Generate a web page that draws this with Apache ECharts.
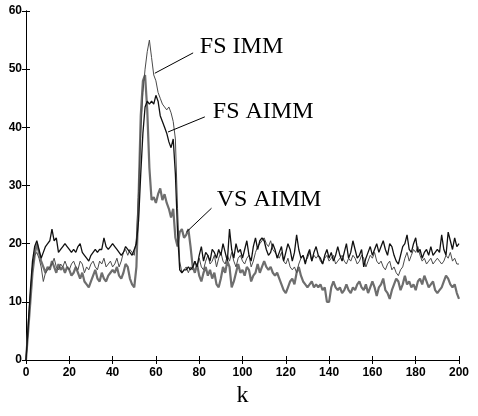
<!DOCTYPE html>
<html><head><meta charset="utf-8">
<script src="https://cdn.jsdelivr.net/npm/echarts@6/dist/echarts.min.js"></script>
<style>html,body{margin:0;padding:0;background:#fff}#c{width:478px;height:416px}</style>
</head><body><div id="c"></div>
<script>
// k = 0..200
const fsAimm = [
0,6,12,17,19.5,20.5,19,17.5,18.5,19.5,
20,20.5,22.5,20.5,21,18.5,19,19.5,20,19.5,
19,18.5,19,18.5,19.5,20,18.5,18,17.5,17,
18,18.5,19,18.5,19,19,21,19.5,19,19.5,
20,19.5,19,18.5,18,18.5,19.5,19,18.5,18,
19,20,24,32,39,43.5,44.5,44,44.5,44,
45.5,44.5,42,41,40,39,37.5,36.5,38,32,
22,15.5,15,15.5,15.5,16,15.5,16,17,16,
18,19.5,17,18.5,18,17,19,18.5,17.5,19,
18,20,18.5,17,22.5,19,17.5,20,18.5,19,
17.5,19,20.5,18,17,19.5,21,19,20.5,21,
20.5,19,18,18.5,20,19,17.5,18.5,19.5,17,
18.5,20,19,17,18.5,21.5,19,17.5,18,16.5,
18,19,17,18.5,19.5,18,17.5,16.5,18,19,
17.5,18.5,17,18,19.5,18,17,18.5,20,17.5,
18.5,20.5,19,17.5,18,19,16,17.5,18.5,19.5,
18,19,20,18.5,19.5,20.5,19,18,20,19.5,
18,17,16.5,18,19.5,20,21.5,19,18.5,20,
21,18.5,19,17.5,18.5,19,18,19.5,18,18.5,
19,18.5,21.5,19,18,22,20.5,19,21,19.5,
20];
const fsImm = [
0,5,11,16,18,18.5,17.5,16,13.5,15,
15.5,16,16.5,17.5,16,15.5,16.5,16,17,16,
15.5,16.5,17,16,15.5,17,16.5,15,16,15.5,
16.5,17,16,15.5,17,16.5,17.5,16,16.5,17,
16,16.5,17.5,16,17,18.5,19,18,19,18.5,
18,21,29,39,46,50,53,55,52,49,
48,46,45,44,43.5,43,43.5,42.5,41,38,
26,17,15,15.5,16,15,16,15.5,17,16,
17.5,16,15.5,17,18,16.5,17,18,16,17.5,
18.5,17,16.5,18,17,18.5,17,16,17.5,18,
17,16.5,17.5,18,16,17,18.5,19.5,20,20.5,
21,20,19.5,20.5,19,18.5,18,17.5,18.5,17,
16.5,17.5,16,15.5,16,15,16.5,17.5,18,17,
17.5,18.5,17,18,17.5,18,17,16.5,17.5,18,
17,17.5,18,16.5,17,17.5,18,17,16.5,17.5,
17,18,17.5,16.5,17,18,17.5,16,17,18,
17.5,18.5,17,16.5,17,16,15.5,16.5,17,15.5,
16,15,14.5,15.5,16,17.5,18.5,17,18,19,
18.5,19.5,18,17,17.5,16.5,17,17.5,16.5,17,
17.5,17,16.5,17,18,17.5,18.5,17,17.5,16.5,
16.5];
const vsAimm = [
0,5,10,15,18,20,18.5,17,16,15,
16,15.5,17,16,15,16.5,15.5,16,15,16,
15.5,14.5,15,16,15,14,15,13.5,13,12.5,
13.5,14.5,15.5,14,13.5,15,14,13.5,14.5,15,
15.5,15,16,14.5,14,15,16.5,16,14,13,
12.5,16,28,42,48,49,43,33,27.5,28,
27,28.5,29.5,27.5,28.5,27,26,24.5,26,21,
19.5,22,22.5,21,21.5,22.5,19.5,16,15,16.5,
14.5,13.5,15,16,14.5,15.5,14,15,13,12.5,
14,16,15,17,16,12.5,13.5,15,16.5,15,
15.5,14.5,16,15.5,13.5,14.5,15,16.5,15,16,
17,16,15.5,16,15,14.5,15,14,13,12,
11.5,12.5,13.5,14,13,15,16,14.5,13.5,13,
12.5,13,13.5,12.5,13,12.5,13,12,12.5,10,
10,12.5,13.5,12.5,12,12.5,11.5,12,13,12,
11.5,12.5,12,13,13.5,12.5,12,13,11.5,12.5,
13.5,12.5,11,12.5,13,14,12,11.5,10.5,12,
13,14,13.5,12,13,14.5,13,13.5,12.5,13,
12,13.5,14,13,14.5,13.5,12.5,13,13.5,12,
11.5,12,12.5,13.5,14.5,14,13,12.5,13,11.5,
10.5];
const seriesNames = ['VS AIMM','FS IMM','FS AIMM'];
const xTicks = [0,20,40,60,80,100,120,140,160,180,200];
const yTicks = [0,10,20,30,40,50,60];
// annotation anchors in data coordinates [k, value]
const annotText = ['FS IMM','FS AIMM','VS AIMM'];
const annotTextAt = [[80.3,51.85],[86.3,40.55],[88.1,25.45]];
const leaderFrom = [[59.5,49.3],[65.6,39.2],[74.1,22.0]];
const leaderTo = [[77.2,52.8],[82.6,41.8],[85.7,26.1]];

const pairs = arr => arr.map((v,i)=>[i,v]);
const chart = echarts.init(document.getElementById('c'), null, {renderer:'canvas'});
const axisCommon = {
  axisLine:{show:true,lineStyle:{color:'#000',width:1}},
  axisTick:{show:true,inside:true,length:4,lineStyle:{color:'#000'}},
  splitLine:{show:false}
};
const lblFont = {color:'#000',fontFamily:'Liberation Sans, Arial, sans-serif',fontWeight:'bold',fontSize:12};
chart.setOption({
  animation:false,
  backgroundColor:'#fff',
  grid:{left:26,right:19,top:11,bottom:56},
  xAxis:[
    Object.assign({type:'value',min:xTicks[0],max:xTicks[xTicks.length-1],interval:20,position:'bottom',
      axisLabel:Object.assign({margin:7},lblFont),
      name:'k',nameLocation:'middle',nameGap:16,
      nameTextStyle:{fontFamily:'Liberation Serif, Times New Roman, serif',fontSize:24,color:'#000'}},axisCommon),
    Object.assign({type:'value',min:xTicks[0],max:xTicks[xTicks.length-1],interval:20,position:'top',axisLabel:{show:false}},axisCommon)
  ],
  yAxis:[
    Object.assign({type:'value',min:yTicks[0],max:yTicks[yTicks.length-1],interval:10,position:'left',
      axisLabel:Object.assign({margin:4},lblFont)},axisCommon),
    Object.assign({type:'value',min:yTicks[0],max:yTicks[yTicks.length-1],interval:10,position:'right',axisLabel:{show:false}},axisCommon)
  ],
  series:[
    {name:seriesNames[0],type:'line',data:pairs(vsAimm),showSymbol:false,symbol:'none',
      lineStyle:{color:'#6e6e6e',width:2.2},z:2},
    {name:seriesNames[1],type:'line',data:pairs(fsImm),showSymbol:false,symbol:'none',
      lineStyle:{color:'#4a4a4a',width:1},z:3},
    {name:seriesNames[2],type:'line',data:pairs(fsAimm),showSymbol:false,symbol:'none',
      lineStyle:{color:'#111',width:1.3},z:4}
  ]
});
const px = p => chart.convertToPixel({gridIndex:0}, p);
const graphics = [];
annotText.forEach((t,i)=>{
  const a = px(leaderFrom[i]), b = px(leaderTo[i]), tp = px(annotTextAt[i]);
  graphics.push({type:'line',shape:{x1:a[0],y1:a[1],x2:b[0],y2:b[1]},style:{stroke:'#000',lineWidth:1},z:10});
  graphics.push({type:'text',x:tp[0],y:tp[1],style:{text:t,fill:'#000',
    font:'24px "Liberation Serif", "Times New Roman", serif',textVerticalAlign:'bottom',verticalAlign:'bottom'},z:10});
});
chart.setOption({graphic:graphics});
</script></body></html>
